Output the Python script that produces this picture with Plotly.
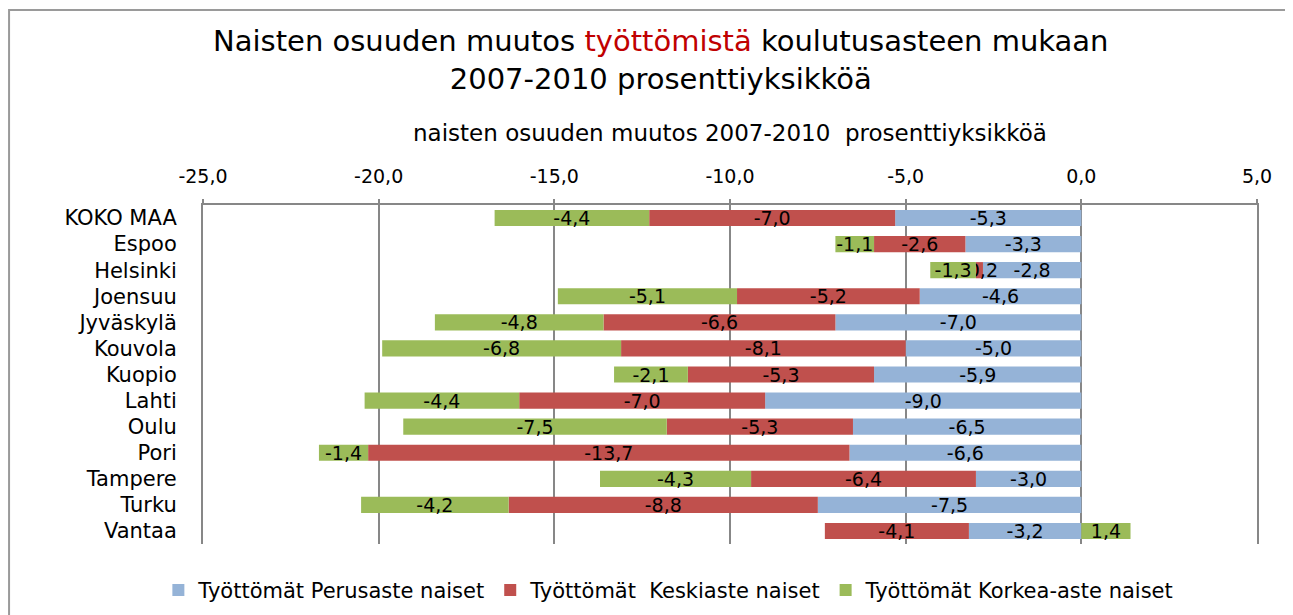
import plotly.graph_objects as go

categories = ["KOKO MAA", "Espoo", "Helsinki", "Joensuu", "Jyväskylä", "Kouvola", "Kuopio",
              "Lahti", "Oulu", "Pori", "Tampere", "Turku", "Vantaa"]
perusaste = [-5.3, -3.3, -2.8, -4.6, -7.0, -5.0, -5.9, -9.0, -6.5, -6.6, -3.0, -7.5, -3.2]
keskiaste = [-7.0, -2.6, -0.2, -5.2, -6.6, -8.1, -5.3, -7.0, -5.3, -13.7, -6.4, -8.8, -4.1]
korkea_aste = [-4.4, -1.1, -1.3, -5.1, -4.8, -6.8, -2.1, -4.4, -7.5, -1.4, -4.3, -4.2, 1.4]

tick_values = [-25, -20, -15, -10, -5, 0, 5]
tick_labels = ["-25,0", "-20,0", "-15,0", "-10,0", "-5,0", "0,0", "5,0"]

series = [
    ("Työttömät Perusaste naiset", perusaste, "#95B3D7"),
    ("Työttömät  Keskiaste naiset", keskiaste, "#C0504D"),
    ("Työttömät Korkea-aste naiset", korkea_aste, "#9BBB59"),
]

FONT = "DejaVu Sans"
GRAY = "#878787"


def fi(v):
    return f"{v:.1f}".replace(".", ",")


fig = go.Figure()
for name, vals, color in series:
    fig.add_trace(go.Bar(
        y=categories, x=vals, name=name, orientation="h",
        marker=dict(color=color, line=dict(width=0)),
        text=[fi(v) for v in vals], texttemplate="%{text}", textposition="inside",
        insidetextanchor="middle", textangle=0,
        textfont=dict(family=FONT, size=19, color="black"),
        cliponaxis=False,
    ))

fig.update_layout(
    width=1285, height=607,
    barmode="relative", bargap=0.38,
    separators=", ",
    paper_bgcolor="white", plot_bgcolor="white",
    margin=dict(l=195, r=36, t=197, b=71, autoexpand=False),
    uniformtext=dict(minsize=19, mode="show"),
    title=dict(
        text="Naisten osuuden muutos <span style='color:#C00000'>työttömistä</span> koulutusasteen mukaan<br>2007-2010 prosenttiyksikköä",
        x=0.508, xanchor="center", y=0.929, yanchor="middle",
        font=dict(family=FONT, size=29, color="black"),
    ),
    font=dict(family=FONT, color="black"),
    legend=dict(
        orientation="h", x=0.442, xanchor="center", y=-0.076, yanchor="top",
        font=dict(family=FONT, size=21, color="black"),
        traceorder="normal", itemwidth=30,
    ),
    xaxis=dict(
        side="top", range=[-25, 5], tickvals=tick_values, ticktext=tick_labels,
        showgrid=True, gridcolor=GRAY, gridwidth=2,
        zeroline=True, zerolinecolor=GRAY, zerolinewidth=2,
        showline=True, linecolor=GRAY, linewidth=2,
        ticks="outside", ticklen=4, tickcolor=GRAY, tickwidth=2,
        ticklabelstandoff=8,
        tickfont=dict(family=FONT, size=19, color="black"),
        title=dict(text="naisten osuuden muutos 2007-2010  prosenttiyksikköä",
                   font=dict(family=FONT, size=23, color="black"), standoff=17),
    ),
    yaxis=dict(
        autorange="reversed", showgrid=False,
        showline=True, mirror=True, linecolor=GRAY, linewidth=2,
        ticks="", ticklabelstandoff=20,
        tickfont=dict(family=FONT, size=21, color="black"),
    ),
    shapes=[dict(type="rect", xref="paper", yref="paper",
                 x0=-0.184, x1=1.2, y0=-0.5, y1=1.575,
                 line=dict(color="#9A9A9A", width=2), layer="below")],
)

fig.write_html("out.html")
